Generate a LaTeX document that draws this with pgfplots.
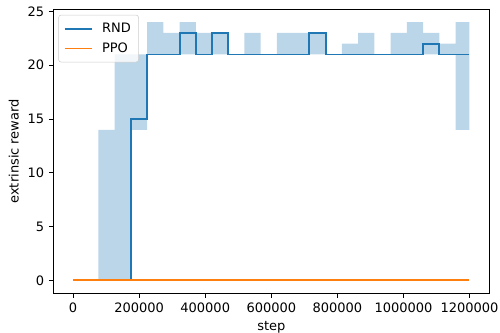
\documentclass[border=0pt]{standalone}
\usepackage{fontspec}
\setmainfont{DejaVu Sans}
\usepackage{pgfplots}
\usepackage{pgfplotstable}
\pgfplotsset{compat=1.18}
\usepgfplotslibrary{fillbetween}
\definecolor{c0}{HTML}{1F77B4}
\definecolor{c1}{HTML}{FF7F0E}
\newlength\U
\setlength\U{0.77pt}

\pgfplotstableread{
x       mean up lo
0       0    0  0
76402   0    14 0
125554  0    21 0
174706  15   21 14
223858  21   24 21
273010  21   23 21
322162  23   24 21
371314  21   23 21
420466  23   23 21
469618  21   21 21
518770  21   23 21
567922  21   21 21
617074  21   23 21
666226  21   23 21
715378  23   23 21
764530  21   21 21
813682  21   22 21
862834  21   23 21
911986  21   21 21
961138  21   23 21
1010290 21   24 21
1059442 22   23 21
1108594 21   22 21
1157746 21   24 14
1200000 21   24 14
}\rnd

\pgfplotstableread{
x       mean
0       0
1200000 0
}\ppo

\begin{document}
\begin{tikzpicture}
\begin{axis}[
  scale only axis, width=436\U, height=284\U,
  xmin=-60000, xmax=1260000, ymin=-1.2, ymax=25.2,
  xtick={0,200000,400000,600000,800000,1000000,1200000},
  ytick={0,5,10,15,20,25},
  scaled x ticks=false,
  /pgf/number format/assume math mode=true,
  xticklabel style={/pgf/number format/fixed, /pgf/number format/1000 sep={}},
  tick label style={font=\fontsize{10}{12}\selectfont},
  label style={font=\fontsize{10}{12}\selectfont},
  tick align=outside, xtick pos=left, ytick pos=left,
  major tick length=3.5pt,
  tick style={black, line width=0.8pt},
  axis line style={line width=0.8pt},
  xlabel={step}, ylabel={extrinsic reward},
  legend cell align=left,
  legend image code/.code={\draw[#1] (0pt,0pt) -- (21pt,0pt);},
  legend style={at={(0,1)}, anchor=north west, xshift=5\U, yshift=-5.5\U,
    draw=black!20, rounded corners=2pt, fill=white, fill opacity=0.8, text opacity=1,
    font=\fontsize{10}{12}\selectfont, row sep=2.5pt, inner xsep=4pt, inner ysep=4pt,
    /tikz/every odd column/.append style={column sep=5pt}},
]
\addplot[const plot mark left, draw=none, name path=up, forget plot] table[x=x, y=up] {\rnd};
\addplot[const plot mark left, draw=none, name path=lo, forget plot] table[x=x, y=lo] {\rnd};
\addplot[fill=c0, fill opacity=0.3, draw=none, forget plot] fill between[of=up and lo];
\addplot[const plot mark left, c0, line width=1.5pt] table[x=x, y=mean] {\rnd};
\addlegendentry{RND}
\addplot[c1, line width=1.5pt] table[x=x, y=mean] {\ppo};
\addlegendentry{PPO}
\end{axis}
\pgfresetboundingbox
\path[use as bounding box] ([xshift=-53.3\U, yshift=-39.7\U]current axis.south west) rectangle ++(500\U, 333\U);
\end{tikzpicture}
\end{document}
